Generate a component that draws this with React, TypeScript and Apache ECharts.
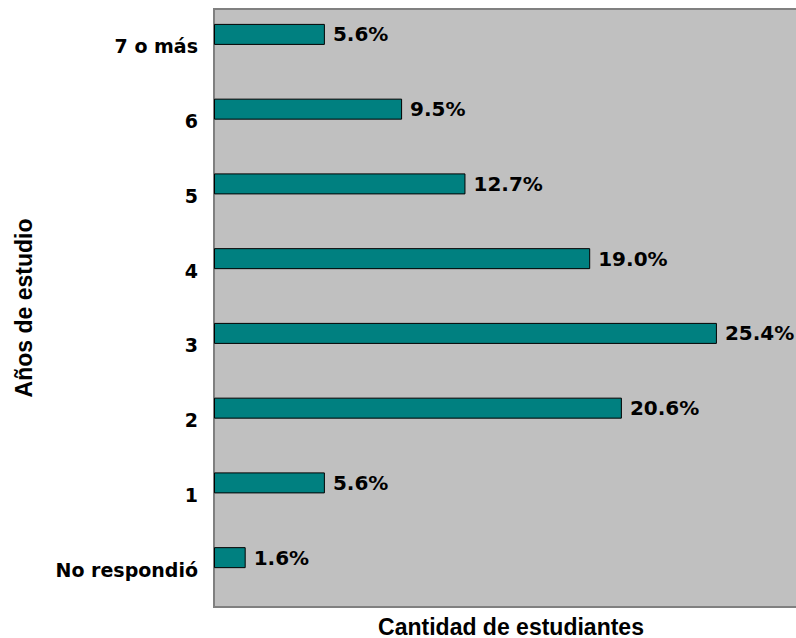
import React, { useEffect, useRef } from "react";
import * as echarts from "echarts";

const categories = ["No respondió", "1", "2", "3", "4", "5", "6", "7 o más"];
const percentages = [1.6, 5.6, 20.6, 25.4, 19.0, 12.7, 9.5, 5.6];
const spacer = categories.map(() => null);
const xAxisTitle = "Cantidad de estudiantes";
const yAxisTitle = "Años de estudio";

export default function App() {
  const ref = useRef<HTMLDivElement>(null);
  useEffect(() => {
    if (!ref.current) return;
    const chart = echarts.init(ref.current, null, { renderer: "svg" });
    chart.setOption({
      animation: false,
      backgroundColor: "#ffffff",
      grid: {
        show: true,
        left: 214,
        top: 9,
        width: 594,
        height: 598,
        outerBoundsMode: "none",
        containLabel: false,
        backgroundColor: "#c0c0c0",
        borderColor: "#808080",
        borderWidth: 2,
      },
      xAxis: {
        type: "value",
        min: 0,
        max: 30,
        axisLabel: { show: false },
        axisTick: { show: false },
        axisLine: { show: false },
        splitLine: { show: false },
        name: xAxisTitle,
        nameLocation: "middle",
        nameGap: 8,
        nameTextStyle: {
          fontFamily: "Liberation Sans",
          fontWeight: "bold",
          fontSize: 23,
          color: "#000",
          verticalAlign: "top",
        },
      },
      yAxis: {
        type: "category",
        data: categories,
        axisTick: { show: false },
        axisLine: { show: false },
        splitLine: { show: false },
        axisLabel: {
          margin: 16,
          fontFamily: "DejaVu Sans",
          fontWeight: "bold",
          fontSize: 19,
          color: "#000",
        },
        name: yAxisTitle,
        nameLocation: "middle",
        nameGap: 179,
        nameTextStyle: {
          fontFamily: "Liberation Sans",
          fontWeight: "bold",
          fontSize: 23,
          color: "#000",
        },
      },
      series: [
        {
          type: "bar",
          data: percentages,
          barWidth: 21,
          barGap: "14%",
          itemStyle: { color: "#008080", borderColor: "#000", borderWidth: 1 },
          label: {
            show: true,
            position: "right",
            distance: 8,
            formatter: (p: any) => p.value.toFixed(1) + "%",
            fontFamily: "DejaVu Sans",
            fontWeight: "bold",
            fontSize: 20,
            color: "#000",
          },
        },
        {
          type: "bar",
          data: spacer,
          barWidth: 21,
          silent: true,
        },
      ],
    });
    return () => chart.dispose();
  }, []);
  return (
    <div
      ref={ref}
      style={{ position: "absolute", left: 0, top: 0, width: 796, height: 638 }}
    />
  );
}
